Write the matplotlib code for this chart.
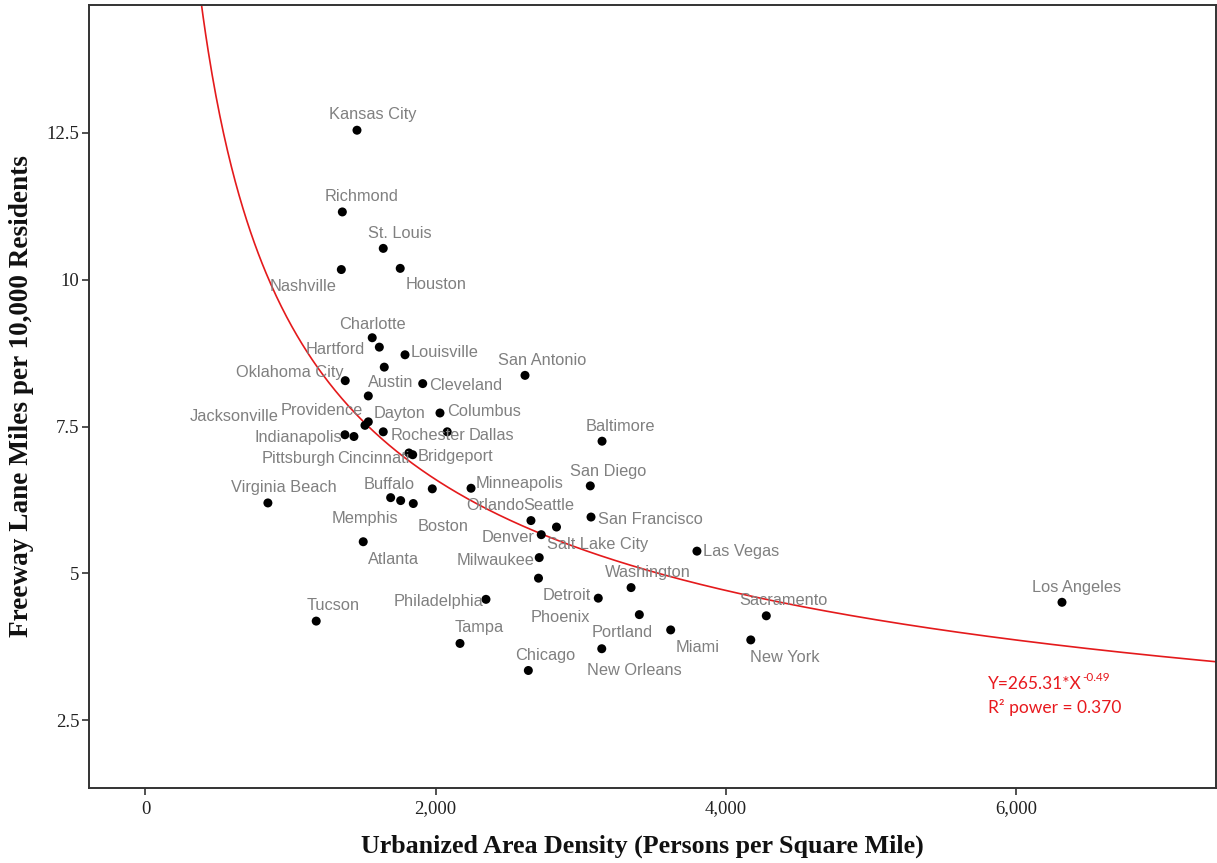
import numpy as np
import matplotlib
matplotlib.use("Agg")
import matplotlib.pyplot as plt

# Urbanized-area density vs. freeway lane miles, one point per metro area
cities = [
    "Kansas City", "Richmond", "St. Louis", "Nashville", "Houston",
    "Charlotte", "Hartford", "Louisville", "Austin", "Oklahoma City",
    "Cleveland", "San Antonio", "Dayton", "Providence", "Jacksonville",
    "Columbus", "Indianapolis", "Pittsburgh", "Rochester", "Dallas",
    "Baltimore", "Cincinnati", "Bridgeport", "Virginia Beach", "Buffalo",
    "Memphis", "Boston", "Orlando", "Minneapolis", "San Diego",
    "Seattle", "Denver", "Salt Lake City", "San Francisco", "Las Vegas",
    "Milwaukee", "Phoenix", "Atlanta", "Philadelphia", "Tucson",
    "Tampa", "Chicago", "Detroit", "Washington", "Portland",
    "Miami", "New Orleans", "Sacramento", "New York", "Los Angeles",
]
density = [
    1458, 1357, 1639, 1350, 1756,
    1563, 1612, 1789, 1646, 1377,
    1911, 2616, 1536, 1536, 1513,
    2030, 1375, 1437, 1639, 2080,
    3147, 1816, 1842, 844, 1690,
    1759, 1846, 1977, 2244, 3066,
    2657, 2728, 2833, 3071, 3801,
    2714, 2709, 1501, 2347, 1177,
    2168, 2639, 3121, 3347, 3404,
    3620, 3145, 4279, 4172, 6317,
]
lane_miles = [
    12.54, 11.15, 10.53, 10.17, 10.19,
    9.01, 8.85, 8.72, 8.51, 8.28,
    8.23, 8.37, 8.02, 7.58, 7.52,
    7.73, 7.36, 7.33, 7.41, 7.41,
    7.25, 7.05, 7.02, 6.20, 6.29,
    6.24, 6.19, 6.44, 6.45, 6.49,
    5.90, 5.66, 5.79, 5.96, 5.38,
    5.27, 4.92, 5.54, 4.56, 4.19,
    3.81, 3.35, 4.58, 4.76, 4.30,
    4.04, 3.72, 4.28, 3.87, 4.51,
]

# Power-law fit Y = a * X^b
fit_a = 265.31
fit_b = -0.486
fit_r2 = 0.370

x_ticks = [0, 2000, 4000, 6000]
x_ticklabels = ["0", "2,000", "4,000", "6,000"]
y_ticks = [2.5, 5, 7.5, 10, 12.5]
y_ticklabels = ["2.5", "5", "7.5", "10", "12.5"]

# Label placement relative to each point: (dx px, dy px downward, alignment)
label_pos = {
    "Kansas City": (16, -17, "center"), "Richmond": (19, -17, "center"),
    "St. Louis": (17, -16, "center"), "Nashville": (-38, 15, "center"),
    "Houston": (36, 15, "center"), "Charlotte": (0, -15, "center"),
    "Hartford": (-14, 1, "right"), "Louisville": (6, -4, "left"),
    "Austin": (6, 14, "center"), "Oklahoma City": (-2, -10, "right"),
    "Cleveland": (6, 0, "left"), "San Antonio": (17, -16, "center"),
    "Dayton": (31, 16, "center"), "Providence": (-5, -13, "right"),
    "Jacksonville": (-86, -10, "right"), "Columbus": (7, -3, "left"),
    "Indianapolis": (-3, 1, "right"), "Pittsburgh": (-19, 20, "right"),
    "Rochester": (7, 2, "left"), "Dallas": (21, 2, "left"),
    "Baltimore": (18, -16, "center"), "Cincinnati": (1, 4, "right"),
    "Bridgeport": (5, 0, "left"), "Virginia Beach": (16, -17, "center"),
    "Buffalo": (-1, -15, "center"), "Memphis": (-36, 16, "center"),
    "Boston": (30, 21, "center"), "Orlando": (34, 15, "left"),
    "Minneapolis": (5, -6, "left"), "San Diego": (18, -16, "center"),
    "Seattle": (18, -17, "center"), "Denver": (-7, 1, "right"),
    "Salt Lake City": (41, 16, "center"), "San Francisco": (7, 1, "left"),
    "Las Vegas": (6, -1, "left"), "Milwaukee": (-5, 1, "right"),
    "Phoenix": (22, 38, "center"), "Atlanta": (30, 16, "center"),
    "Philadelphia": (-3, 1, "right"), "Tucson": (17, -17, "center"),
    "Tampa": (19, -17, "center"), "Chicago": (17, -16, "center"),
    "Detroit": (-7, -4, "right"), "Washington": (17, -17, "center"),
    "Portland": (-17, 16, "center"), "Miami": (27, 16, "center"),
    "New Orleans": (33, 20, "center"), "Sacramento": (17, -17, "center"),
    "New York": (34, 16, "center"), "Los Angeles": (15, -16, "center"),
}

W, H = 1217, 863
fig = plt.figure(figsize=(W / 100, H / 100), dpi=100)
fig.patch.set_facecolor("white")
left, right, top, bottom = 89, 1215.5, 5, 788
ax = fig.add_axes([left / W, 1 - bottom / H, (right - left) / W, (bottom - top) / H])

ax.set_xlim(-389, 7375)
ax.set_ylim(1.351, 14.67)

# fitted curve
xs = np.linspace(300, 7375, 800)
ax.plot(xs, fit_a * xs ** fit_b, color="#e41a1c", lw=1.2, zorder=2)

ax.scatter(density, lane_miles, s=42, color="black", edgecolors="none", zorder=3)

for name, xv, yv in zip(cities, density, lane_miles):
    dx, dy, ha = label_pos[name]
    ax.annotate(name, xy=(xv, yv), xytext=(dx, -dy), textcoords="offset pixels",
                ha=ha, va="center_baseline", fontsize=11.8, color="#808080",
                family="Liberation Sans", zorder=4)

# fit equation with the exponent as a superscript
eq = fig.text(988 / W, 1 - 684 / H, f"Y={fit_a:.2f}*X", color="#e8191e",
              fontsize=12.5, family="Lato", va="center", ha="left")
ax.annotate(f"{fit_b:.2f}", xy=(1.0, 1.0), xycoords=eq, xytext=(1, 4),
            textcoords="offset pixels", color="#e8191e", fontsize=8.5,
            family="Lato", va="top", ha="left")
fig.text(988 / W, 1 - 708 / H, f"R\u00b2 power = {fit_r2:.3f}", color="#e8191e",
         fontsize=12.5, family="Lato", va="center", ha="left")

ax.set_xticks(x_ticks)
ax.set_xticklabels(x_ticklabels)
ax.set_yticks(y_ticks)
ax.set_yticklabels(y_ticklabels)
ax.tick_params(direction="out", length=5, width=1.1, color="#222222",
               labelsize=13.5, pad=2)
ax.tick_params(axis="x", pad=4)
for lab in ax.get_xticklabels() + ax.get_yticklabels():
    lab.set_family("Liberation Serif")
    lab.set_color("#222222")

for sp in ax.spines.values():
    sp.set_linewidth(1.4)
    sp.set_color("#333333")

fig.text(642 / W, 1 - 846 / H, "Urbanized Area Density (Persons per Square Mile)",
         ha="center", va="center", fontsize=18.7, fontweight="bold",
         family="Liberation Serif", color="#111111")
fig.text(22 / W, 1 - 396 / H, "Freeway Lane Miles per 10,000 Residents",
         ha="center", va="center", rotation=90, fontsize=19.6, fontweight="bold",
         family="Liberation Serif", color="#111111")

fig.savefig("out.png", dpi=100, facecolor="white")
